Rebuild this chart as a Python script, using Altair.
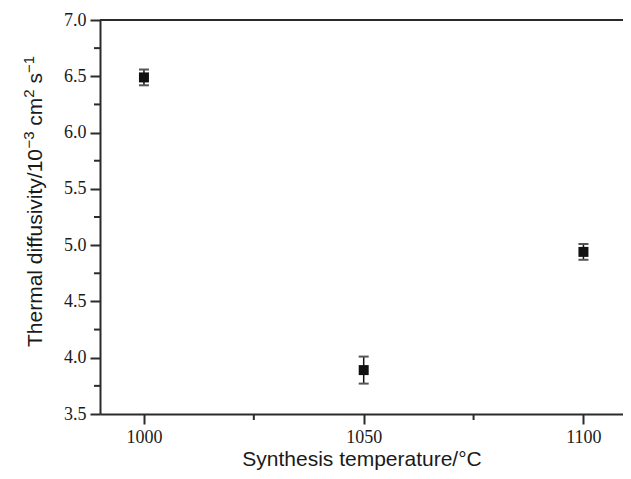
import altair as alt
import pandas as pd

# Data
temps = [1000, 1050, 1100]
diffusivity = [6.49, 3.89, 4.94]
errors = [0.07, 0.12, 0.07]

x_major = [1000, 1050, 1100]
x_minor = [1025, 1075]
y_major = [3.5, 4.0, 4.5, 5.0, 5.5, 6.0, 6.5, 7.0]
y_minor = [3.75, 4.25, 4.75, 5.25, 5.75, 6.25, 6.75]

x_title = "Synthesis temperature/°C"
# y title pieces: (text, is_superscript, space before it)
y_title_parts = [("Thermal diffusivity/10", False, False), ("\u22123", True, False),
                 ("cm", False, True), ("2", True, False), ("s", False, True),
                 ("\u22121", True, False)]

W, H = 523, 394
AX = "#2b2b2b"
FS, SFS = 21, 15

# Arial / Liberation Sans advance widths (em) for laying out the title pieces
adv = {"T": .611, "h": .556, "e": .556, "r": .333, "m": .833, "a": .556, "l": .222,
       " ": .278, "d": .556, "i": .222, "f": .278, "u": .556, "s": .5, "v": .5,
       "t": .278, "y": .5, "/": .278, "1": .556, "0": .556, "3": .556, "2": .556,
       "c": .5, "\u2212": .584}

df = pd.DataFrame({"t": temps, "d": diffusivity, "e": errors})
df["lo"] = df["d"] - df["e"]
df["hi"] = df["d"] + df["e"]

xs = alt.Scale(domain=[990, 1109], nice=False, zero=False)
ys = alt.Scale(domain=[3.5, 7.0], nice=False, zero=False)

base = alt.Chart(df)

points = base.mark_square(size=100, color="#111111", opacity=1).encode(
    x=alt.X("t:Q", scale=xs, title=x_title,
            axis=alt.Axis(values=x_major, format="d", labelFontSize=18,
                          titleY=51, titleBaseline="alphabetic")),
    y=alt.Y("d:Q", scale=ys, title=None,
            axis=alt.Axis(values=y_major, format=".1f", labelFontSize=18)),
)

vbar = base.mark_rule(color="#111111", strokeWidth=1.5).encode(
    x="t:Q", y="lo:Q", y2="hi:Q"
)
cap_hi = base.mark_rule(color="#555555", strokeWidth=2, xOffset=-5, x2Offset=5).encode(
    x="t:Q", x2="t:Q", y="hi:Q"
)
cap_lo = base.mark_rule(color="#555555", strokeWidth=2, xOffset=-5, x2Offset=5).encode(
    x="t:Q", x2="t:Q", y="lo:Q"
)

top_line = alt.Chart(pd.DataFrame({"a": [0]})).mark_rule(color=AX, strokeWidth=2).encode(
    x=alt.value(0), x2=alt.value(W), y=alt.value(0)
)

xminor = alt.Chart(pd.DataFrame({"v": x_minor})).mark_rule(color=AX, strokeWidth=2).encode(
    x=alt.X("v:Q", scale=xs), y=alt.value(H), y2=alt.value(H + 6)
)
yminor = alt.Chart(pd.DataFrame({"v": y_minor})).mark_rule(color=AX, strokeWidth=2).encode(
    y=alt.Y("v:Q", scale=ys), x=alt.value(0), x2=alt.value(-6)
)

# rotated y-axis title built from pieces (with real superscripts)
title_layers = []
pos = 327.0  # start (bottom) of the title, relative to plot top
for txt, sup, space in y_title_parts:
    size = SFS if sup else FS
    if space:
        pos -= adv[" "] * FS
    width = sum(adv.get(c, .556) for c in txt) * size
    layer = alt.Chart(pd.DataFrame({"s": [txt]})).mark_text(
        angle=270, align="left", baseline="alphabetic", font="Liberation Sans",
        fontSize=size, color="#1a1a1a"
    ).encode(text="s:N", x=alt.value(-66 if sup else -58), y=alt.value(pos))
    title_layers.append(layer)
    pos -= width

chart = alt.layer(
    top_line, xminor, yminor, vbar, cap_hi, cap_lo, points, *title_layers
).properties(
    width=W, height=H,
    autosize=alt.AutoSizeParams(type="none"),
    padding={"left": 92, "top": 12, "right": 0, "bottom": 57},
).configure_view(stroke=None).configure_axis(
    grid=False,
    domainColor=AX, domainWidth=2,
    tickColor=AX, tickWidth=2, tickSize=10,
    labelFont="Liberation Serif", labelColor="#1a1a1a",
    titleFont="Liberation Sans", titleFontSize=21, titleColor="#1a1a1a",
    titleFontWeight="normal",
).configure_axisX(labelPadding=4).configure_axisY(labelPadding=4)

chart.save("out.html", embed_options={"renderer": "svg", "actions": False})
